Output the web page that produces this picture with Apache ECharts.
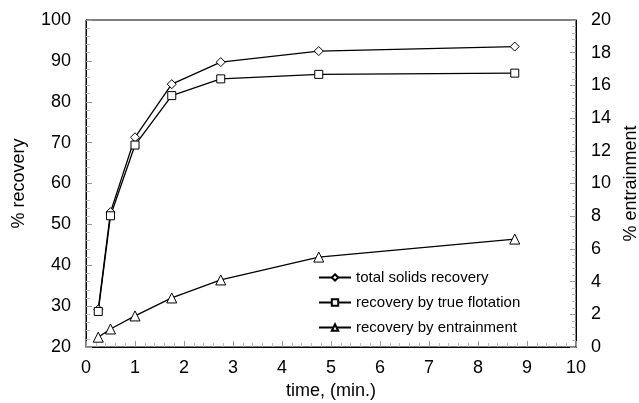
<!DOCTYPE html>
<html>
<head>
<meta charset="utf-8">
<script src="https://cdn.jsdelivr.net/npm/echarts@6/dist/echarts.min.js"></script>
<style>html,body{margin:0;padding:0;background:#fff;overflow:hidden;}#c{width:639px;height:403px;}</style>
</head>
<body>
<div id="c"></div>
<script>
var times = [0.25, 0.5, 1, 1.75, 2.75, 4.75, 8.75];
var totalSolids = [29.2, 53.0, 71.3, 84.3, 89.7, 92.4, 93.5];
var trueFlotation = [28.7, 52.1, 69.4, 81.5, 85.6, 86.7, 87.0];
var entrainment = [0.6, 1.1, 1.9, 3.0, 4.1, 5.5, 6.6];
var seriesNames = ['total solids recovery', 'recovery by true flotation', 'recovery by entrainment'];

function pairs(ys) { return times.map(function (t, i) { return [t, ys[i]]; }); }

var font = 'Liberation Sans, Arial, sans-serif';
var tickStyle = { show: true, inside: true, length: 6, lineStyle: { color: '#999' } };
var minorStyle = { show: true, splitNumber: 5, length: 4, lineStyle: { color: '#bbb' } };
var lbl = { fontFamily: font, fontSize: 18, color: '#000' };

var chart = echarts.init(document.getElementById('c'));
chart.setOption({
  animation: false,
  backgroundColor: '#fff',
  grid: { left: 86, right: 63, top: 20, bottom: 56, show: true, borderColor: '#000', borderWidth: 1, containLabel: false, outerBoundsMode: 'none' },
  xAxis: {
    type: 'value', min: 0, max: 10, interval: 1,
    name: 'time, (min.)', nameLocation: 'middle', nameGap: 29,
    nameTextStyle: { fontFamily: font, fontSize: 18, color: '#000' },
    axisLine: { lineStyle: { color: '#000' } },
    axisTick: tickStyle, minorTick: minorStyle,
    axisLabel: Object.assign({ margin: 12 }, lbl),
    splitLine: { show: false }
  },
  yAxis: [{
    type: 'value', min: 20, max: 100, interval: 10,
    name: '% recovery', nameLocation: 'middle', nameGap: 58, nameRotate: 90,
    nameTextStyle: { fontFamily: font, fontSize: 18, color: '#000' },
    axisLine: { show: true, lineStyle: { color: '#000' } },
    axisTick: tickStyle, minorTick: minorStyle,
    axisLabel: Object.assign({ margin: 15 }, lbl),
    splitLine: { show: false }
  }, {
    type: 'value', min: 0, max: 20, interval: 2, position: 'right',
    name: '% entrainment', nameLocation: 'middle', nameGap: 45, nameRotate: 90,
    nameTextStyle: { fontFamily: font, fontSize: 18, color: '#000' },
    axisLine: { show: true, lineStyle: { color: '#000' } },
    axisTick: tickStyle, minorTick: minorStyle,
    axisLabel: Object.assign({ margin: 15 }, lbl),
    splitLine: { show: false }
  }],
  legend: {
    orient: 'vertical', left: 313, top: 265, itemGap: 10, itemWidth: 32, itemHeight: 8,
    textStyle: { fontFamily: font, fontSize: 15, color: '#000' },
    data: seriesNames
  },
  series: [{
    name: seriesNames[0], type: 'line', data: pairs(totalSolids),
    symbol: 'diamond', symbolSize: 9,
    lineStyle: { color: '#000', width: 1.3 },
    itemStyle: { color: '#fff', borderColor: '#000', borderWidth: 1 }
  }, {
    name: seriesNames[1], type: 'line', data: pairs(trueFlotation),
    symbol: 'rect', symbolSize: 8,
    lineStyle: { color: '#000', width: 1.3 },
    itemStyle: { color: '#fff', borderColor: '#000', borderWidth: 1 }
  }, {
    name: seriesNames[2], type: 'line', yAxisIndex: 1, data: pairs(entrainment),
    symbol: 'triangle', symbolSize: 10,
    lineStyle: { color: '#000', width: 1.3 },
    itemStyle: { color: '#fff', borderColor: '#000', borderWidth: 1 }
  }]
});
</script>
</body>
</html>
